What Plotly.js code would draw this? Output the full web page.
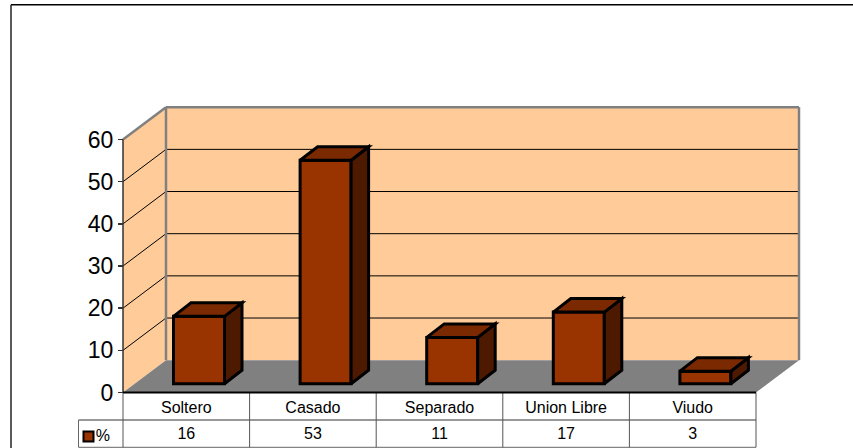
<!DOCTYPE html>
<html>
<head>
<meta charset="utf-8">
<script src="https://cdn.plot.ly/plotly-3.0.1.min.js"></script>
<style>html,body{margin:0;padding:0;background:#fff;overflow:hidden}#c{width:853px;height:448px}
.scatterlayer path.js-line{stroke-linejoin:miter !important;stroke-miterlimit:4 !important}</style>
</head>
<body>
<div id="c"></div>
<script>
// ---- data ----
const categories = ['Soltero', 'Casado', 'Separado', 'Union Libre', 'Viudo'];
const values = [16, 53, 11, 17, 3];
const seriesName = '%';
const yTicks = [0, 10, 20, 30, 40, 50, 60];

// ---- geometry (page pixels -> axis units) ----
const W = 853, H = 448;
const catPx = 126.6, unitPx = 4.2167, x0Px = 123, y0Px = 392.5;
const xRange = [-0.5 - x0Px / catPx, -0.5 + (W - x0Px) / catPx];
const yRange = [(y0Px - H) / unitPx, y0Px / unitPx];
const X = px => -0.5 + (px - x0Px) / catPx;
const Y = px => (y0Px - px) / unitPx;

const wallDx = 43 / catPx, wallDy = 32.3 / unitPx;      // depth of the chart box
const barDx = 17.5 / catPx, barDy = 13.5 / unitPx;      // depth of a bar
const barShift = 12.7 / catPx, barBase = 8.7 / unitPx;  // bar's front plane inside the box
const barW = 51 / catPx;
const yMax = yTicks[yTicks.length - 1];
const left = -0.5, right = categories.length - 0.5;

const poly = pts => 'M' + pts.map(p => p[0] + ',' + p[1]).join('L') + 'Z';
const shape = (path, fill, color, width, layer) => ({
  type: 'path', xref: 'x', yref: 'y', path, fillcolor: fill || 'rgba(0,0,0,0)',
  line: {color: color || 'rgba(0,0,0,0)', width: width || 0}, layer: layer || 'below'
});
const seg = (x1, y1, x2, y2, color, width, layer) => ({
  type: 'line', xref: 'x', yref: 'y', x0: x1, y0: y1, x1: x2, y1: y2,
  line: {color, width}, layer: layer || 'below'
});

const shapes = [];
const GRAY = '#808080', WALL = '#FFCC99';
// walls and floor
shapes.push(shape(poly([[left + wallDx, wallDy], [right + wallDx, wallDy], [right + wallDx, yMax + wallDy], [left + wallDx, yMax + wallDy]]), WALL));
shapes.push(shape(poly([[left, 0], [left + wallDx, wallDy], [left + wallDx, yMax + wallDy], [left, yMax]]), WALL));
shapes.push(shape(poly([[left, 0], [right, 0], [right + wallDx, wallDy], [left + wallDx, wallDy]]), GRAY));
// gridlines
yTicks.slice(1, -1).forEach(v => {
  shapes.push(seg(left, v, left + wallDx, v + wallDy, '#000', 1));
  shapes.push(seg(left + wallDx, v + wallDy, right + wallDx, v + wallDy, '#000', 1));
});
// wall borders
shapes.push(seg(left + wallDx, wallDy, left + wallDx, yMax + wallDy, GRAY, 2.5));
shapes.push(seg(left + wallDx, yMax + wallDy, right + wallDx, yMax + wallDy, GRAY, 2.5));
shapes.push(seg(right + wallDx, wallDy, right + wallDx, yMax + wallDy, GRAY, 2.5));
shapes.push(seg(left, yMax, left + wallDx, yMax + wallDy, GRAY, 2.5));
shapes.push(seg(left, 0, left, yMax, '#333', 1.5));
// data table
const rowA = Y(420), rowB = Y(447.3), keyLeft = X(78.5);
shapes.push(seg(keyLeft, rowA, right, rowA, '#333', 1));
shapes.push(seg(keyLeft, rowB, right, rowB, '#666', 1));
shapes.push(seg(keyLeft, rowA, keyLeft, rowB, '#666', 1));
for (let i = 0; i <= categories.length; i++) {
  shapes.push(seg(left + i, 0, left + i, rowB, '#555', 1));
}
shapes.push(seg(left, 0, right, 0, '#000', 2));
// outer chart frame
shapes.push({type: 'line', xref: 'paper', yref: 'paper', x0: 11 / W, x1: 1, y0: 1 - 4.7 / H, y1: 1 - 4.7 / H, line: {color: '#000', width: 1.5}});
shapes.push({type: 'line', xref: 'paper', yref: 'paper', x0: 11 / W, x1: 11 / W, y0: 0, y1: 1 - 4.7 / H, line: {color: '#222', width: 1.5}});

const FONT = 'Liberation Sans, Arial, sans-serif';
const traces = [];
const barX = categories.map((_, i) => i + barShift);
// front faces
traces.push({
  type: 'bar', x: barX, y: values, base: barBase, width: barW, name: seriesName,
  marker: {color: '#993300', line: {color: '#000', width: 3}}, hoverinfo: 'skip'
});
// side and top faces
const face = (pts, fill) => ({
  type: 'scatter', mode: 'lines', x: pts.map(p => p[0]), y: pts.map(p => p[1]),
  fill: 'toself', fillcolor: fill, line: {color: '#000', width: 3}, hoverinfo: 'skip'
});
values.forEach((v, i) => {
  const l = barX[i] - barW / 2, r = barX[i] + barW / 2, b = barBase, t = barBase + v;
  traces.push(face([[r, b], [r + barDx, b + barDy], [r + barDx, t + barDy], [r, t], [r, b]], '#4D1A00'));
  traces.push(face([[l, t], [l + barDx, t + barDy], [r + barDx, t + barDy], [r, t], [l, t]], '#7A2900'));
});
// values row of the table
traces.push({
  type: 'scatter', mode: 'text', x: categories.map((_, i) => i), y: values.map(() => Y(434.5)),
  text: values.map(String), textposition: 'middle center',
  textfont: {family: FONT, size: 16, color: '#000'}, hoverinfo: 'skip'
});
// legend key
traces.push({
  type: 'scatter', mode: 'markers+text', x: [X(88.5)], y: [Y(436.5)], text: [seriesName],
  textposition: 'middle right', textfont: {family: FONT, size: 16, color: '#000'},
  marker: {symbol: 'square', size: 10, color: '#993300', line: {color: '#000', width: 2}}, hoverinfo: 'skip'
});

const layout = {
  width: W, height: H, margin: {l: 0, r: 0, t: 0, b: 0},
  paper_bgcolor: '#fff', plot_bgcolor: '#fff', showlegend: false, bargap: 0,
  font: {family: FONT, color: '#000'},
  xaxis: {
    range: xRange, anchor: 'free', position: 1 - y0Px / H, showgrid: false, zeroline: false, showline: false,
    tickmode: 'array', tickvals: categories.map((_, i) => i), ticktext: categories,
    ticks: '', ticklabelstandoff: 3, tickfont: {family: FONT, size: 16, color: '#000'}, fixedrange: true
  },
  yaxis: {
    range: yRange, anchor: 'free', position: x0Px / W, showgrid: false, zeroline: false, showline: false,
    tickmode: 'array', tickvals: yTicks, ticks: 'outside', ticklen: 5, tickcolor: '#333', tickwidth: 1.5,
    tickfont: {family: FONT, size: 23, color: '#000'}, fixedrange: true
  },
  shapes
};
Plotly.newPlot('c', traces, layout, {displayModeBar: false, staticPlot: true});
</script>
</body>
</html>
